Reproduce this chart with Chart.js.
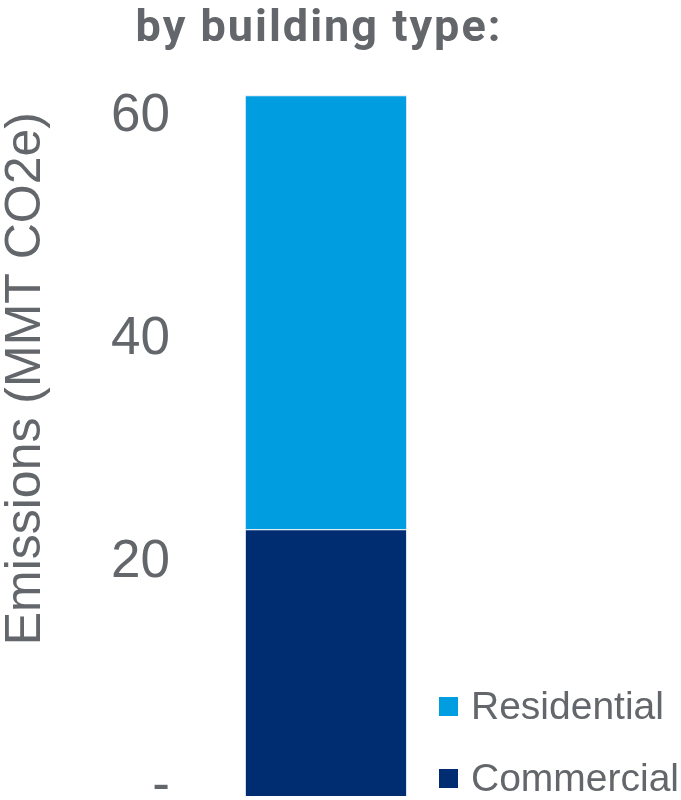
<!DOCTYPE html>
<html>
<head>
<meta charset="utf-8">
<script src="https://cdn.jsdelivr.net/npm/chart.js@4"></script>
<style>
  html, body { margin: 0; padding: 0; background: #fff; }
  #wrap { position: relative; width: 681px; height: 800px; }
  #title { position: absolute; left: 0; top: 0; width: 638px; text-align: center; font-family: Roboto, 'Liberation Sans', sans-serif; font-weight: 700; font-size: 45px; line-height: 52px; letter-spacing: 2px; color: #63666a; white-space: nowrap; }
  #legend { position: absolute; left: 439px; top: 686px; font-family: 'Liberation Sans', Arial, sans-serif; font-size: 39px; color: #63666a; }
  .item { display: flex; align-items: center; height: 40px; margin-bottom: 32px; white-space: nowrap; }
  .swatch { width: 19px; height: 19px; margin-right: 13px; flex: none; }
</style>
</head>
<body>
<div id="wrap">
  <canvas id="chart" width="681" height="800"></canvas>
  <div id="title">by building type:</div>
  <div id="legend"></div>
</div>
<script>
// data
const categories = ['Buildings'];
const commercial = [23.9];
const residential = [38.9];
const yTicks = [0, 20, 40, 60];

const gray = '#63666a';
const colors = { Residential: '#009de0', Commercial: '#002d72' };

const ctx = document.getElementById('chart').getContext('2d');
const chart = new Chart(ctx, {
    type: 'bar',
    data: {
        labels: categories,
        datasets: [
            { label: 'Commercial', data: commercial, backgroundColor: colors.Commercial, borderColor: '#d9e2f0', borderWidth: 1, clip: false },
            { label: 'Residential', data: residential, backgroundColor: colors.Residential, borderColor: '#d9e2f0', borderWidth: 1, clip: false }
        ]
    },
    options: {
        responsive: false,
        animation: false,
        barPercentage: 0.5625,
        categoryPercentage: 1,
        // top padding leaves room for the html title
        layout: { padding: { left: 0, right: 211, top: 112, bottom: 4 } },
        plugins: {
            legend: { display: false },
            tooltip: { enabled: false }
        },
        scales: {
            x: { stacked: true, display: false },
            y: {
                stacked: true,
                min: 0,
                max: 61.3,
                grid: { display: false, drawTicks: false },
                border: { display: false },
                afterBuildTicks: (scale) => { scale.ticks = yTicks.map(v => ({ value: v })); },
                afterFit: (scale) => { scale.paddingBottom = 0; scale.paddingTop = 0; },
                ticks: {
                    padding: 12,
                    labelOffset: -10,
                    color: gray,
                    font: { family: 'Liberation Sans', size: 53 },
                    callback: (v) => v === 0 ? '-' : v
                },
                title: {
                    display: true,
                    text: 'Emissions (MMT CO2e)',
                    align: 'end',
                    color: gray,
                    font: { family: 'Liberation Sans', size: 50, lineHeight: 1 },
                    padding: { top: 1, bottom: 48 }
                }
            }
        }
    }
});

// legend, top item is the top of the stack
const legendEl = document.getElementById('legend');
chart.data.datasets.slice().reverse().forEach(ds => {
    const item = document.createElement('div');
    item.className = 'item';
    const sw = document.createElement('span');
    sw.className = 'swatch';
    sw.style.background = ds.backgroundColor;
    item.appendChild(sw);
    item.appendChild(document.createTextNode(ds.label));
    legendEl.appendChild(item);
});
</script>
</body>
</html>
